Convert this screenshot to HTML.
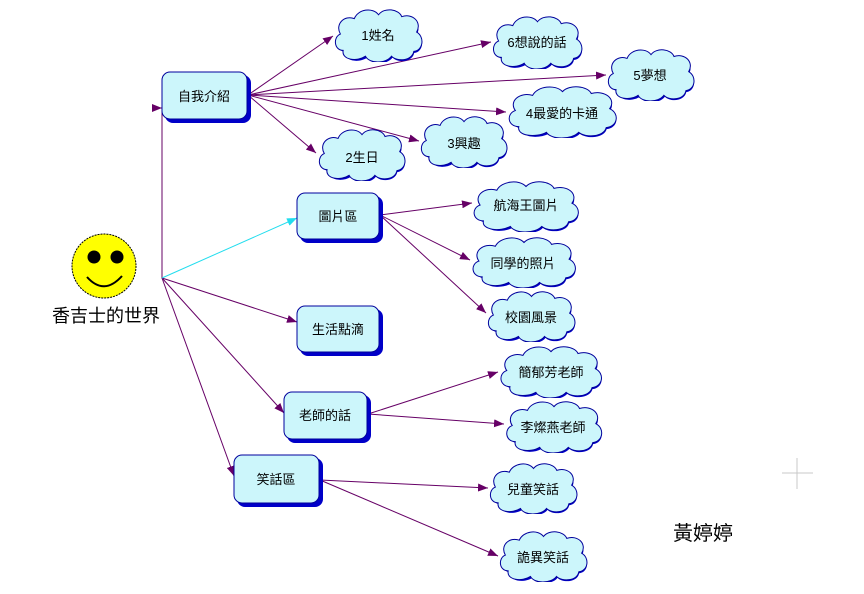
<!DOCTYPE html>
<html><head><meta charset="utf-8">
<style>
html,body{margin:0;padding:0;background:#fff;}
svg{display:block;}
text{font-family:"Liberation Sans","Noto Sans CJK TC","WenQuanYi Zen Hei",sans-serif;font-size:13px;fill:#000;}
</style></head>
<body>
<svg width="864" height="594" viewBox="0 0 864 594" xmlns="http://www.w3.org/2000/svg">
<defs>
<symbol id="cl" viewBox="0 0 100 56" preserveAspectRatio="none">
<path d="M12,44 C2,44 1,30 9,27 C3,17 13,7 24,11 C28,1 44,-1 50,7 C56,-1 72,1 75,9 C87,5 97,15 91,25 C100,30 98,44 88,45 C86,55 70,56 64,50 C58,58 40,58 36,50 C27,56 10,54 12,44 Z" fill="#0000c8" transform="translate(3,3) scale(0.97)"/>
<path d="M12,44 C2,44 1,30 9,27 C3,17 13,7 24,11 C28,1 44,-1 50,7 C56,-1 72,1 75,9 C87,5 97,15 91,25 C100,30 98,44 88,45 C86,55 70,56 64,50 C58,58 40,58 36,50 C27,56 10,54 12,44 Z" fill="#ccf6fb" stroke="#00009c" stroke-width="1" vector-effect="non-scaling-stroke"/>
</symbol>
<marker id="ar" markerWidth="10" markerHeight="8" refX="10" refY="4" orient="auto" markerUnits="userSpaceOnUse"><path d="M0,0 L10,4 L0,8 Z" fill="#660066"/></marker>
<marker id="ac" markerWidth="10" markerHeight="8" refX="10" refY="4" orient="auto" markerUnits="userSpaceOnUse"><path d="M0,0 L10,4 L0,8 Z" fill="#22ddee"/></marker>
</defs>

<!-- connectors -->
<g stroke="#660066" stroke-width="1" fill="none">
<line x1="162" y1="278" x2="162" y2="105"/>
<line x1="156" y1="108" x2="162" y2="108" marker-end="url(#ar)"/>
<line x1="162" y1="278" x2="297" y2="322" marker-end="url(#ar)"/>
<line x1="162" y1="278" x2="284" y2="413" marker-end="url(#ar)"/>
<line x1="162" y1="278" x2="234" y2="476" marker-end="url(#ar)"/>
<line x1="248" y1="95" x2="333" y2="36" marker-end="url(#ar)"/>
<line x1="248" y1="95" x2="491" y2="42" marker-end="url(#ar)"/>
<line x1="248" y1="95" x2="606" y2="75" marker-end="url(#ar)"/>
<line x1="248" y1="95" x2="506" y2="112" marker-end="url(#ar)"/>
<line x1="248" y1="95" x2="419" y2="141" marker-end="url(#ar)"/>
<line x1="248" y1="95" x2="316" y2="153" marker-end="url(#ar)"/>
<line x1="380" y1="215" x2="472" y2="203" marker-end="url(#ar)"/>
<line x1="380" y1="215" x2="470" y2="260" marker-end="url(#ar)"/>
<line x1="380" y1="215" x2="486" y2="313" marker-end="url(#ar)"/>
<line x1="368" y1="414" x2="498" y2="372" marker-end="url(#ar)"/>
<line x1="368" y1="414" x2="504" y2="424" marker-end="url(#ar)"/>
<line x1="320" y1="480" x2="488" y2="488" marker-end="url(#ar)"/>
<line x1="320" y1="480" x2="498" y2="556" marker-end="url(#ar)"/>
</g>
<line x1="162" y1="278" x2="297" y2="218" stroke="#22ddee" stroke-width="1" marker-end="url(#ac)"/>

<!-- smiley -->
<circle cx="104" cy="266" r="32" fill="#ffff00" stroke="#000" stroke-width="1" stroke-dasharray="2,1"/>
<circle cx="94" cy="257" r="6.5" fill="#000"/>
<circle cx="117" cy="257" r="6.5" fill="#000"/>
<path d="M87,277 Q104,296 122,276" fill="none" stroke="#000" stroke-width="2"/>
<text x="106" y="322" text-anchor="middle" style="font-size:18px">香吉士的世界</text>

<!-- boxes -->
<g>
<rect x="165" y="75" width="86" height="48" rx="8" fill="#0000c8"/>
<rect x="162" y="72" width="85" height="47" rx="8" fill="#ccf6fb" stroke="#00009c"/>
<text x="204" y="101" text-anchor="middle">自我介紹</text>
<rect x="300" y="196" width="83" height="47" rx="8" fill="#0000c8"/>
<rect x="297" y="193" width="82" height="46" rx="8" fill="#ccf6fb" stroke="#00009c"/>
<text x="338" y="221" text-anchor="middle">圖片區</text>
<rect x="300" y="309" width="83" height="47" rx="8" fill="#0000c8"/>
<rect x="297" y="306" width="82" height="46" rx="8" fill="#ccf6fb" stroke="#00009c"/>
<text x="338" y="334" text-anchor="middle">生活點滴</text>
<rect x="287" y="395" width="84" height="48" rx="8" fill="#0000c8"/>
<rect x="284" y="392" width="83" height="47" rx="8" fill="#ccf6fb" stroke="#00009c"/>
<text x="325" y="420" text-anchor="middle">老師的話</text>
<rect x="237" y="458" width="86" height="49" rx="8" fill="#0000c8"/>
<rect x="234" y="455" width="85" height="48" rx="8" fill="#ccf6fb" stroke="#00009c"/>
<text x="276" y="484" text-anchor="middle">笑話區</text>
</g>

<!-- clouds -->
<use href="#cl" x="332" y="8" width="93" height="54"/><text x="378" y="40" text-anchor="middle">1姓名</text>
<use href="#cl" x="490" y="15" width="95" height="54"/><text x="537" y="47" text-anchor="middle">6想說的話</text>
<use href="#cl" x="605" y="48" width="92" height="53"/><text x="650" y="80" text-anchor="middle">5夢想</text>
<use href="#cl" x="505" y="85" width="115" height="53"/><text x="562" y="118" text-anchor="middle">4最愛的卡通</text>
<use href="#cl" x="418" y="115" width="92" height="53"/><text x="464" y="148" text-anchor="middle">3興趣</text>
<use href="#cl" x="316" y="128" width="92" height="53"/><text x="362" y="162" text-anchor="middle">2生日</text>
<use href="#cl" x="470" y="180" width="112" height="52"/><text x="526" y="210" text-anchor="middle">航海王圖片</text>
<use href="#cl" x="469" y="236" width="110" height="52"/><text x="523" y="268" text-anchor="middle">同學的照片</text>
<use href="#cl" x="485" y="290" width="93" height="52"/><text x="531" y="322" text-anchor="middle">校園風景</text>
<use href="#cl" x="497" y="345" width="108" height="53"/><text x="551" y="377" text-anchor="middle">簡郁芳老師</text>
<use href="#cl" x="503" y="400" width="102" height="53"/><text x="553" y="432" text-anchor="middle">李燦燕老師</text>
<use href="#cl" x="487" y="462" width="93" height="52"/><text x="533" y="494" text-anchor="middle">兒童笑話</text>
<use href="#cl" x="497" y="530" width="93" height="52"/><text x="543" y="562" text-anchor="middle">詭異笑話</text>

<!-- plus mark -->
<line x1="797" y1="458" x2="797" y2="489" stroke="#c8c8c8"/>
<line x1="782" y1="473" x2="813" y2="473" stroke="#c8c8c8"/>

<text x="703" y="540" text-anchor="middle" style="font-size:20px">黃婷婷</text>
</svg>
</body></html>
